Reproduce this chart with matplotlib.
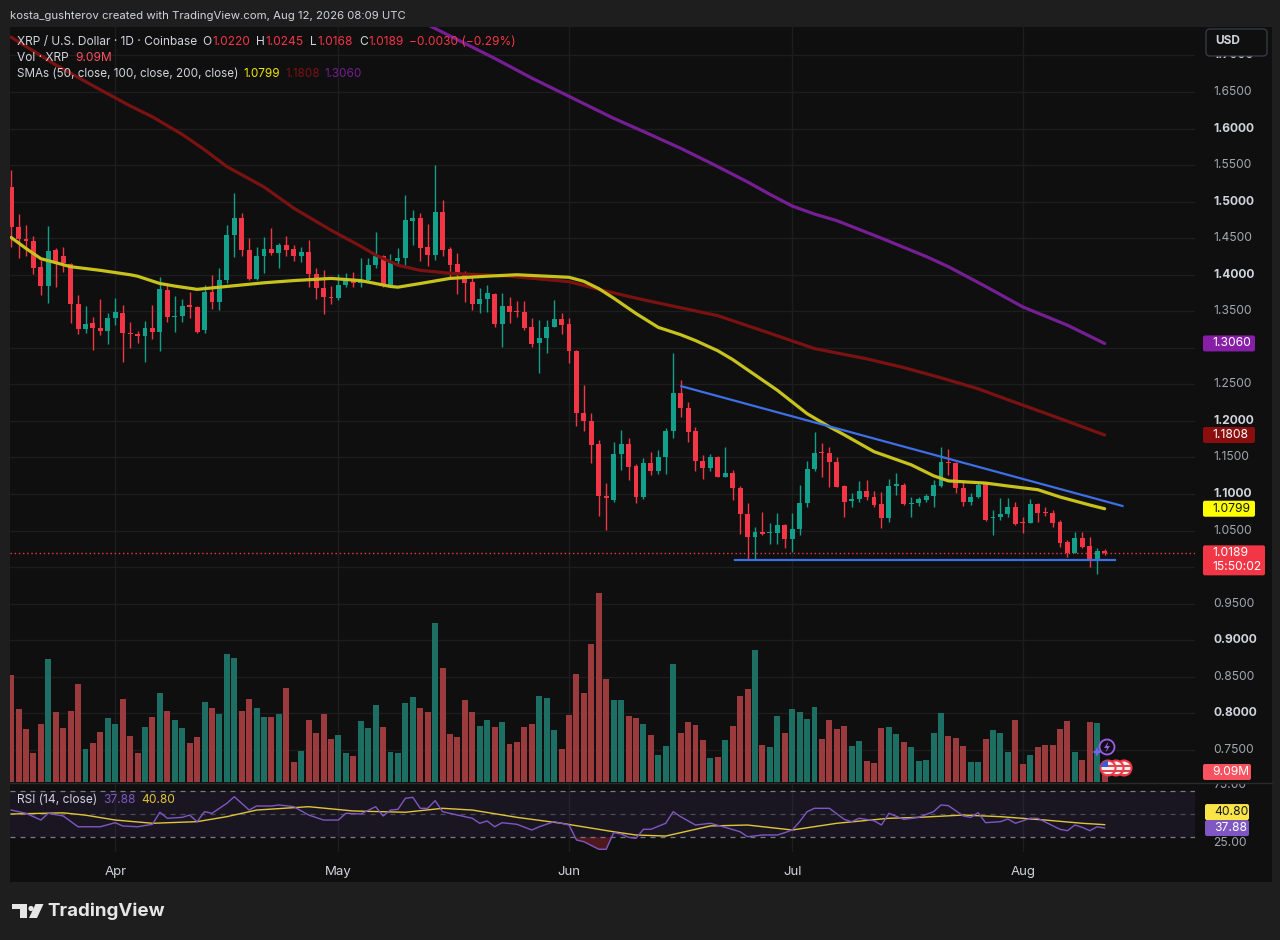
"""Recreate a TradingView XRP/USD daily chart: candles, volume, SMAs, RSI."""

import matplotlib
matplotlib.use("Agg")
import matplotlib.pyplot as plt
import numpy as np
import pandas as pd
from matplotlib.patches import Rectangle, FancyBboxPatch, Circle, Polygon
from matplotlib.transforms import Bbox, TransformedBbox, blended_transform_factory

plt.rcParams["font.family"] = ["Inter", "DejaVu Sans"]

# ---------------- data ----------------
dates = pd.date_range("2026-03-18", "2026-08-12", freq="D")

opens = [
    1.5195, 1.4647, 1.4492, 1.4460, 1.4100, 1.3845, 1.4337, 1.4255, 1.4146, 1.3598,
    1.3252, 1.3334, 1.3275, 1.3234, 1.3402, 1.3480, 1.3206, 1.3188, 1.3161, 1.3266,
    1.3211, 1.3790, 1.3425, 1.3435, 1.3580, 1.3562, 1.3243, 1.3768, 1.3630, 1.3927,
    1.4543, 1.4770, 1.4337, 1.3945, 1.4255, 1.4351, 1.4292, 1.4406, 1.4346, 1.4255,
    1.4314, 1.4009, 1.3813, 1.3700, 1.3685, 1.3858, 1.3936, 1.3890, 1.3927, 1.4132,
    1.4255, 1.3858, 1.4191, 1.4223, 1.4739, 1.4770, 1.4374, 1.4269, 1.4862, 1.4346,
    1.4146, 1.4018, 1.3904, 1.3598, 1.3662, 1.3735, 1.3325, 1.3576, 1.3503, 1.3494,
    1.3279, 1.3060, 1.3138, 1.3288, 1.3393, 1.3325, 1.2960, 1.2112, 1.2002, 1.1683,
    1.0972, 1.0918, 1.1547, 1.1684, 1.1383, 1.0964, 1.1420, 1.1320, 1.1511, 1.1867,
    1.2387, 1.2172, 1.1862, 1.1456, 1.1351, 1.1502, 1.1237, 1.1292, 1.1087, 1.0722,
    1.0417, 1.0480, 1.0462, 1.0471, 1.0576, 1.0380, 1.0517, 1.0873, 1.1338, 1.1580,
    1.1566, 1.1443, 1.1110, 1.0905, 1.0928, 1.1047, 1.0965, 1.0864, 1.0668, 1.1115,
    1.1124, 1.0864, 1.0882, 1.0919, 1.0974, 1.1110, 1.1443, 1.1420, 1.1079, 1.0896,
    1.0965, 1.1133, 1.0668, 1.0682, 1.0727, 1.0828, 1.0623, 1.0609, 1.0864, 1.0759,
    1.0737, 1.0623, 1.0349, 1.0198, 1.0395, 1.0290, 1.0116, 1.0220,
]
highs = [
    1.5430, 1.4830, 1.4680, 1.4533, 1.4200, 1.4666, 1.4370, 1.4383, 1.4164, 1.3720,
    1.3570, 1.3425, 1.3667, 1.3480, 1.3685, 1.3585, 1.3357, 1.3230, 1.3370, 1.3585,
    1.3972, 1.3890, 1.3712, 1.3667, 1.3767, 1.3572, 1.3858, 1.3995, 1.4086, 1.4679,
    1.5122, 1.4839, 1.4497, 1.4383, 1.4510, 1.4634, 1.4430, 1.4534, 1.4406, 1.4374,
    1.4474, 1.4087, 1.4064, 1.3840, 1.4009, 1.4018, 1.4041, 1.4224, 1.4224, 1.4588,
    1.4269, 1.4283, 1.4360, 1.5090, 1.4884, 1.4848, 1.4693, 1.5500, 1.5021, 1.4383,
    1.4300, 1.4054, 1.3972, 1.3813, 1.3858, 1.3744, 1.3753, 1.3699, 1.3644, 1.3644,
    1.3402, 1.3380, 1.3380, 1.3653, 1.3471, 1.3402, 1.2969, 1.2490, 1.2103, 1.1738,
    1.1145, 1.1716, 1.1876, 1.1771, 1.1411, 1.1488, 1.1579, 1.1602, 1.1899, 1.2934,
    1.2560, 1.2263, 1.1912, 1.1534, 1.1547, 1.1520, 1.1639, 1.1329, 1.1110, 1.0882,
    1.0544, 1.0758, 1.0599, 1.0745, 1.0590, 1.0735, 1.1124, 1.1456, 1.1853, 1.1694,
    1.1649, 1.1503, 1.1124, 1.1010, 1.1179, 1.1193, 1.1047, 1.1033, 1.1202, 1.1293,
    1.1147, 1.0964, 1.0955, 1.1001, 1.1193, 1.1649, 1.1612, 1.1443, 1.1193, 1.1020,
    1.1170, 1.1147, 1.0782, 1.0942, 1.0942, 1.0896, 1.0682, 1.0928, 1.0873, 1.0819,
    1.0782, 1.0645, 1.0372, 1.0486, 1.0486, 1.0417, 1.0258, 1.0245,
]
lows = [
    1.4383, 1.4223, 1.4255, 1.4009, 1.3720, 1.3617, 1.3836, 1.4040, 1.3334, 1.3188,
    1.3197, 1.2970, 1.3175, 1.3047, 1.3310, 1.2810, 1.3000, 1.3070, 1.2800, 1.3120,
    1.2955, 1.3357, 1.3220, 1.3357, 1.3402, 1.3206, 1.3206, 1.3525, 1.3516, 1.3881,
    1.4237, 1.4255, 1.3927, 1.3927, 1.4019, 1.4264, 1.4095, 1.4255, 1.4192, 1.4178,
    1.3836, 1.3675, 1.3457, 1.3594, 1.3650, 1.3836, 1.3836, 1.3836, 1.3918, 1.4087,
    1.3836, 1.3836, 1.4132, 1.4132, 1.4406, 1.4191, 1.4118, 1.4200, 1.4255, 1.3972,
    1.3735, 1.3630, 1.3516, 1.3471, 1.3494, 1.3288, 1.3006, 1.3334, 1.3425, 1.3243,
    1.3015, 1.2659, 1.2933, 1.3279, 1.3188, 1.2787, 1.1930, 1.1866, 1.1419, 1.0698,
    1.0507, 1.0895, 1.1329, 1.1192, 1.0882, 1.0927, 1.1260, 1.1280, 1.1280, 1.1762,
    1.2049, 1.1716, 1.1319, 1.1201, 1.1319, 1.1228, 1.1228, 1.0918, 1.0453, 1.0106,
    1.0097, 1.0440, 1.0316, 1.0316, 1.0257, 1.0211, 1.0439, 1.0818, 1.1320, 1.1238,
    1.1092, 1.1092, 1.0691, 1.0819, 1.0896, 1.0919, 1.0819, 1.0531, 1.0622, 1.0987,
    1.0850, 1.0691, 1.0837, 1.0896, 1.0819, 1.1092, 1.1261, 1.1010, 1.0837, 1.0851,
    1.0942, 1.0636, 1.0440, 1.0645, 1.0682, 1.0577, 1.0463, 1.0600, 1.0623, 1.0700,
    1.0545, 1.0280, 1.0135, 1.0189, 1.0258, 1.0007, 0.9907, 1.0168,
]
closes = [
    1.4647, 1.4483, 1.4456, 1.4086, 1.3845, 1.4328, 1.4164, 1.4155, 1.3598, 1.3252,
    1.3325, 1.3275, 1.3230, 1.3402, 1.3484, 1.3197, 1.3184, 1.3166, 1.3266, 1.3211,
    1.3799, 1.3425, 1.3440, 1.3576, 1.3562, 1.3220, 1.3768, 1.3630, 1.3927, 1.4543,
    1.4770, 1.4337, 1.3936, 1.4255, 1.4346, 1.4292, 1.4406, 1.4337, 1.4255, 1.4314,
    1.4009, 1.3813, 1.3690, 1.3685, 1.3858, 1.3936, 1.3890, 1.3927, 1.4132, 1.4255,
    1.3858, 1.4187, 1.4223, 1.4748, 1.4780, 1.4360, 1.4269, 1.4862, 1.4337, 1.4132,
    1.4009, 1.3890, 1.3598, 1.3662, 1.3753, 1.3325, 1.3576, 1.3494, 1.3484, 1.3266,
    1.3051, 1.3138, 1.3288, 1.3393, 1.3311, 1.2960, 1.2103, 1.2002, 1.1670, 1.0972,
    1.0940, 1.1547, 1.1684, 1.1365, 1.0964, 1.1420, 1.1320, 1.1511, 1.1867, 1.2377,
    1.2172, 1.1853, 1.1456, 1.1351, 1.1502, 1.1237, 1.1283, 1.1087, 1.0722, 1.0417,
    1.0480, 1.0453, 1.0480, 1.0576, 1.0380, 1.0517, 1.0882, 1.1338, 1.1566, 1.1557,
    1.1443, 1.1101, 1.0896, 1.0933, 1.1047, 1.0965, 1.0851, 1.0668, 1.1110, 1.1133,
    1.0864, 1.0882, 1.0928, 1.0974, 1.1124, 1.1443, 1.1420, 1.1079, 1.0896, 1.0965,
    1.1124, 1.0645, 1.0691, 1.0727, 1.0828, 1.0591, 1.0609, 1.0864, 1.0746, 1.0737,
    1.0609, 1.0326, 1.0198, 1.0395, 1.0280, 1.0116, 1.0219, 1.0189,
]
# volume in millions of XRP
volumes = [
    97.0, 66.7, 48.5, 26.7, 53.0, 112.1, 63.3, 49.1, 64.5, 88.8,
    30.0, 35.1, 45.1, 58.2, 53.0, 75.1, 41.5, 26.4, 50.0, 58.8,
    81.2, 64.2, 56.7, 49.1, 35.5, 40.6, 72.7, 67.6, 61.5, 116.7,
    112.7, 64.8, 75.8, 67.6, 58.8, 58.8, 61.5, 85.7, 17.9, 27.9,
    56.1, 44.8, 62.1, 39.1, 43.0, 26.7, 23.6, 55.1, 49.1, 70.3,
    50.0, 27.3, 26.7, 72.1, 77.3, 67.6, 63.9, 144.5, 103.6, 43.9,
    40.9, 74.2, 63.3, 50.6, 56.1, 50.0, 54.8, 34.5, 36.7, 49.7,
    52.4, 78.2, 76.7, 47.6, 30.3, 61.2, 98.5, 80.9, 125.7, 171.8,
    93.6, 74.2, 74.2, 60.3, 58.2, 53.0, 43.0, 24.8, 33.0, 107.0,
    44.8, 54.5, 51.5, 37.9, 21.8, 22.7, 37.9, 50.6, 77.9, 84.8,
    120.3, 33.9, 31.8, 60.3, 44.2, 66.1, 63.6, 57.0, 68.2, 38.8,
    56.4, 47.9, 50.9, 32.4, 37.6, 19.1, 17.6, 48.8, 50.0, 43.9,
    36.7, 31.8, 19.1, 19.7, 44.8, 62.4, 41.8, 39.7, 33.0, 18.2,
    18.2, 39.1, 47.6, 44.5, 27.0, 56.1, 16.7, 24.2, 31.8, 33.3,
    33.9, 48.5, 55.4, 27.0, 19.7, 54.2, 53.9, 9.09,
]

# moving averages, read at bar indices
sma50_idx = [0, 2, 4, 8, 12, 16, 17, 20, 22, 25, 29, 34, 38, 43, 47, 51, 52, 55, 59, 64,
             68, 75, 77, 79, 81, 84, 87, 90, 92, 95, 97, 100, 103, 105, 107, 110, 112,
             116, 121, 124, 126, 131, 134, 138, 141, 145, 147]
sma50_val = [1.451, 1.436, 1.422, 1.411, 1.406, 1.400, 1.398, 1.388, 1.3845, 1.380,
             1.384, 1.389, 1.392, 1.395, 1.392, 1.384, 1.383, 1.388, 1.395, 1.398,
             1.400, 1.3965, 1.391, 1.381, 1.368, 1.347, 1.328, 1.318, 1.310, 1.296,
             1.284, 1.263, 1.242, 1.226, 1.210, 1.192, 1.181, 1.158, 1.140, 1.125,
             1.118, 1.115, 1.111, 1.106, 1.096, 1.085, 1.0799]
sma100_idx = [0, 6, 12, 16, 19, 23, 26, 29, 34, 38, 43, 47, 49, 52, 55, 59, 67, 75, 79,
              84, 89, 95, 102, 108, 115, 120, 125, 130, 134, 140, 147]
sma100_val = [1.725, 1.687, 1.653, 1.631, 1.616, 1.592, 1.571, 1.548, 1.520, 1.491,
              1.461, 1.439, 1.427, 1.413, 1.406, 1.402, 1.398, 1.3905, 1.380, 1.368,
              1.357, 1.344, 1.320, 1.299, 1.285, 1.273, 1.259, 1.244, 1.229, 1.207,
              1.1808]
sma200_idx = [50, 56, 65, 70, 75, 81, 85, 90, 94, 99, 102, 105, 108, 111, 117, 123, 126,
              131, 136, 142, 147]
sma200_val = [1.773, 1.742, 1.696, 1.669, 1.644, 1.614, 1.596, 1.573, 1.553, 1.527,
              1.510, 1.494, 1.483, 1.474, 1.450, 1.425, 1.411, 1.384, 1.356, 1.331, 1.306]

# drawn trend lines (bar index, price)
trend_upper = [(90.1, 1.2475), (149.4, 1.0837)]
trend_lower = [(97.3, 1.0098), (148.4, 1.0098)]

# RSI(14) and its moving average, read at bar indices
rsi_idx = [0, 2, 4, 5, 7, 9, 12, 14, 15, 17, 19, 20, 21, 23, 24, 25, 26, 27, 29, 30,
           32, 33, 35, 36, 38, 40, 42, 44, 45, 47, 49, 50, 51, 52, 53, 54, 55, 56, 57,
           58, 60, 62, 63, 64, 65, 66, 68, 70, 71, 73, 75, 76, 77, 79, 80, 81, 82, 83,
           84, 85, 86, 88, 89, 90, 92, 94, 96, 98, 99, 101, 103, 104, 105, 106, 107,
           108, 110, 112, 113, 114, 116, 117, 118, 120, 122, 124, 125, 126, 128, 129,
           130, 131, 133, 134, 135, 137, 138, 141, 142, 143, 144, 145, 146, 147]
rsi_val = [53.4, 50.6, 44.8, 50.6, 48.3, 39.0, 39.0, 42.5, 39.7, 39.0, 41.1, 51.5, 46.3,
           47.1, 49.1, 43.4, 52.0, 50.6, 59.2, 64.9, 53.4, 56.9, 56.9, 57.8, 56.3, 49.1,
           44.8, 44.8, 50.6, 50.0, 56.3, 48.3, 53.4, 54.0, 63.5, 64.4, 54.9, 54.9, 61.5,
           52.0, 49.1, 46.3, 42.0, 44.0, 39.0, 42.5, 41.1, 36.2, 39.0, 43.4, 40.5, 27.6,
           26.1, 19.6, 19.6, 33.9, 32.8, 29.9, 29.0, 36.8, 36.8, 42.0, 52.0, 47.7, 40.5,
           42.0, 38.5, 34.7, 30.4, 31.9, 31.9, 33.9, 36.2, 43.4, 52.0, 54.9, 54.9, 45.4,
           43.4, 46.3, 44.2, 40.5, 50.6, 45.4, 47.1, 52.0, 57.8, 57.2, 48.3, 47.1, 51.1,
           42.5, 43.4, 45.7, 42.0, 46.3, 46.3, 36.8, 35.6, 40.5, 38.5, 35.6, 39.0, 37.88]
rsi_ma_idx = [0, 7, 10, 14, 19, 25, 29, 33, 40, 46, 53, 58, 62, 68, 74, 81, 84, 88, 94,
              99, 105, 111, 118, 122, 128, 133, 139, 144, 147]
rsi_ma_val = [50.0, 51.0, 49.0, 44.8, 42.0, 43.4, 47.7, 53.4, 56.3, 52.6, 51.5, 54.9,
              53.4, 47.1, 42.0, 34.7, 31.9, 31.0, 39.7, 40.5, 36.2, 42.0, 46.3, 47.1,
              49.1, 47.7, 44.8, 42.0, 40.8]

price_ticks = [1.70, 1.65, 1.60, 1.55, 1.50, 1.45, 1.40, 1.35, 1.30, 1.25, 1.20, 1.15,
               1.10, 1.05, 1.00, 0.95, 0.90, 0.85, 0.80, 0.75]
hidden_ticks = [1.30, 1.00]   # covered by price tags

# ---------------- style ----------------
W, H = 1280, 940
BG_OUTER = "#1e1e1e"
BG_PANE = "#0f0f0f"
GRID = "#1d1d1d"
UP = "#12a08a"
DOWN = "#f23645"
UP_VOL = "#1d6f64"
DOWN_VOL = "#9c3b3d"
SMA50_C = "#c8c21d"
SMA100_C = "#7b1212"
SMA200_C = "#761e94"
TREND_C = "#3d6fe6"
TXT = "#d1d4dc"
AXTXT = "#a3a6af"
RSI_C = "#7e57c2"
RSI_MA_C = "#e0c53a"

fig = plt.figure(figsize=(W / 100, H / 100), dpi=100, facecolor=BG_OUTER)


def rect(l, t, r, b):
    return [l / W, 1 - b / H, (r - l) / W, (b - t) / H]


bg = fig.add_axes([0, 0, 1, 1], zorder=0)
bg.set_xlim(0, W)
bg.set_ylim(H, 0)
bg.axis("off")
bg.add_patch(Rectangle((10, 27), 1262, 855, color=BG_PANE, lw=0))

axv = fig.add_axes(rect(10, 27, 1195, 782), zorder=1)
ax = fig.add_axes(rect(10, 27, 1195, 782), zorder=2, sharex=axv)
rsi = fig.add_axes(rect(10, 783, 1195, 852), zorder=2, sharex=axv)
for a in (axv, ax, rsi):
    a.patch.set_alpha(0)
    for s in a.spines.values():
        s.set_visible(False)
    a.tick_params(length=0, labelleft=False, labelbottom=False, labelright=False)

x = np.arange(len(dates))
o, h, l, c = map(np.array, (opens, highs, lows, closes))
up = c >= o

ax.set_xlim(-0.15, 159.15)
ax.set_ylim(0.7061, 1.7389)
axv.set_ylim(0, 686)
rsi.set_ylim(17.24, 76.72)

month_idx = [i for i, d in enumerate(dates) if d.day == 1]
month_lbl = [dates[i].strftime("%b") for i in month_idx]

# grid
for i in month_idx:
    axv.axvline(i, color=GRID, lw=1, zorder=0)
    rsi.axvline(i, color=GRID, lw=1, zorder=0)
grid_tr = blended_transform_factory(axv.transAxes, ax.transData)
for p in price_ticks:
    axv.plot([0, 1], [p, p], transform=grid_tr, color=GRID, lw=1, zorder=0)

# volume
axv.bar(x, volumes, width=0.8, color=np.where(up, UP_VOL, DOWN_VOL), lw=0, zorder=2)

# candles
cols = np.where(up, UP, DOWN)
ax.vlines(x, l, h, colors=cols, lw=1.0, zorder=3)
ax.bar(x, np.maximum(np.abs(c - o), 0.0012), bottom=np.minimum(o, c), width=0.66,
       color=cols, lw=0, zorder=4)

# moving averages and trend lines
line_kw = dict(lw=2.3, solid_capstyle="round", solid_joinstyle="round")
ax.plot(sma200_idx, sma200_val, color=SMA200_C, zorder=5, **line_kw)
ax.plot(sma100_idx, sma100_val, color=SMA100_C, zorder=5, **line_kw)
ax.plot(sma50_idx, sma50_val, color=SMA50_C, zorder=6, **line_kw)
for seg in (trend_upper, trend_lower):
    ax.plot([p[0] for p in seg], [p[1] for p in seg], color=TREND_C, lw=1.6, zorder=7)
ax.axhline(closes[-1], color=DOWN, lw=1, ls=(0, (1, 2)), zorder=2)

# price scale labels
for p in price_ticks:
    if any(abs(p - q) < 1e-9 for q in hidden_ticks):
        continue
    major = abs(round(p * 10) - p * 10) < 1e-6
    ax.text(1.0152, p, f"{p:.4f}", transform=ax.get_yaxis_transform(), va="center",
            ha="left", fontsize=8.7, color=TXT if major else AXTXT,
            fontweight="bold" if major else "normal")

# RSI pane
rsi.axhspan(30, 70, color=RSI_C, alpha=0.1, lw=0, zorder=0)
for lev, col in ((70, "#787b86"), (50, "#4a4c55"), (30, "#787b86")):
    rsi.axhline(lev, color=col, lw=0.9, ls=(0, (4, 4)), zorder=1)
rv = np.array(rsi_val)
rsi.fill_between(rsi_idx, rv, 30, where=rv < 30, interpolate=True, color=DOWN,
                 alpha=0.28, lw=0, zorder=2)
rsi.plot(rsi_ma_idx, rsi_ma_val, color=RSI_MA_C, lw=1.0, zorder=3)
rsi.plot(rsi_idx, rsi_val, color=RSI_C, lw=1.0, zorder=4)
rsi.set_xticks(month_idx)
rsi.set_xticklabels(month_lbl)
rsi.tick_params(axis="x", labelbottom=True, colors=TXT, labelsize=9.5, pad=10)
rsi.text(1.0152, 25, "25.00", transform=rsi.get_yaxis_transform(), va="center",
         ha="left", fontsize=8.7, color=AXTXT)
t75 = rsi.text(1.0152, 75, "75.00", transform=rsi.get_yaxis_transform(), va="center",
               ha="left", fontsize=8.7, color=AXTXT)
t75.set_clip_box(TransformedBbox(Bbox([[0, 0], [1.2, 1]]), rsi.transAxes))
t75.set_clip_on(True)

# ---------------- overlay: texts, tags, logo ----------------
fg = fig.add_axes([0, 0, 1, 1], zorder=10)
fg.set_xlim(0, W)
fg.set_ylim(H, 0)
fg.axis("off")
renderer = fig.canvas.get_renderer()


def ypix(axes, v):
    return H - axes.transData.transform((0, v))[1]


def text_run(x0, y, parts, size):
    xx = x0
    for txt, col, gap in parts:
        xx += gap
        t = fg.text(xx, y, txt, color=col, fontsize=size, va="center", ha="left")
        xx += t.get_window_extent(renderer).width


def tag(y, label, face, color, width=52, x0=1203):
    fg.add_patch(FancyBboxPatch((x0, y - 8), width, 16, boxstyle="round,pad=0,rounding_size=2",
                                fc=face, ec="none"))
    fg.text(x0 + 9, y, label, color=color, fontsize=8.7, va="center", ha="left")


fg.text(10, 16, "kosta_gushterov created with TradingView.com, Aug 12, 2026 08:09 UTC",
        color=TXT, fontsize=8.2, va="center", ha="left")
text_run(17, 42, [("XRP / U.S. Dollar · 1D · Coinbase", TXT, 0), ("O", TXT, 5),
                  ("1.0220", DOWN, 1), ("H", TXT, 6), ("1.0245", DOWN, 1), ("L", TXT, 6),
                  ("1.0168", DOWN, 1), ("C", TXT, 6), ("1.0189", DOWN, 1),
                  ("\u22120.0030 (\u22120.29%)", DOWN, 5)], 8.6)
text_run(17, 58, [("Vol · XRP", TXT, 0), ("9.09M", "#f7525f", 6)], 8.6)
text_run(17, 74, [("SMAs (50, close, 100, close, 200, close)", TXT, 0),
                  ("1.0799", "#f0e800", 5), ("1.1808", SMA100_C, 5),
                  ("1.3060", SMA200_C, 5)], 8.4)
text_run(17, 800, [("RSI (14, close)", TXT, 0), ("37.88", RSI_C, 6),
                   ("40.80", RSI_MA_C, 6)], 8.6)

# USD box
fg.add_patch(FancyBboxPatch((1206, 29), 61, 27, boxstyle="round,pad=0,rounding_size=4",
                            fc=BG_PANE, ec="#363a45", lw=1))
fg.text(1215, 41.5, "USD", color=TXT, fontsize=8.5, fontweight="bold", va="center")

# price tags
tag(ypix(ax, sma200_val[-1]), "1.3060", "#861fa6", "white")
tag(ypix(ax, sma100_val[-1]), "1.1808", "#8b0e0e", "white")
tag(ypix(ax, sma50_val[-1]), "1.0799", "#ffff00", "#131722")
yl = ypix(ax, closes[-1])
fg.add_patch(FancyBboxPatch((1203, yl - 8), 62, 30, boxstyle="round,pad=0,rounding_size=2",
                            fc=DOWN, ec="none"))
fg.text(1212, yl, "1.0189", color="white", fontsize=8.7, va="center")
fg.text(1212, yl + 14, "15:50:02", color="white", fontsize=8.7, va="center")
tag(ypix(axv, volumes[-1]), "9.09M", "#f7525f", "white", width=48)
yr = ypix(rsi, rsi_val[-1])
tag(yr, "37.88", RSI_C, "white", width=44, x0=1205)
tag(yr - 16, "40.80", "#f9e547", "#131722", width=44, x0=1205)

# pane separator
fg.plot([10, 1272], [782.5, 782.5], color="#2a2a2a", lw=1)

# event icons at the last bar
fg.add_patch(Circle((1107, 747), 7.5, fill=False, ec="#9d5cf0", lw=1.3))
fg.add_patch(Polygon([(1108.5, 741.5), (1104, 748), (1107, 748), (1105.5, 752.5),
                      (1110, 746), (1107, 746)], closed=True, fc="#9d5cf0", ec="none"))
fg.add_patch(Polygon([(1097, 747), (1098.3, 750.7), (1102, 752), (1098.3, 753.3),
                      (1097, 757), (1095.7, 753.3), (1092, 752), (1095.7, 750.7)],
                     closed=True, fc="#7b61ff", ec="none"))
for cx in (1124, 1116, 1108):
    circ = Circle((cx, 768), 7.5, fc="#f0f0f0", ec="#f23645", lw=1.5)
    fg.add_patch(circ)
    for sy in (765, 769.5, 773.5):
        stripe = Rectangle((cx - 8, sy), 16, 2, fc="#e0454f", ec="none")
        fg.add_patch(stripe)
        stripe.set_clip_path(circ)
canton = Rectangle((1100, 760), 8, 7, fc="#3b5bdb", ec="none")
fg.add_patch(canton)
canton.set_clip_path(circ)

# TradingView logo
LOGO = "#e6e6e6"
fg.add_patch(Rectangle((12, 904), 14.5, 5, fc=LOGO, ec="none"))
fg.add_patch(Rectangle((19.5, 904), 7, 14, fc=LOGO, ec="none"))
fg.add_patch(Circle((31, 908.5), 2.6, fc=LOGO, ec="none"))
fg.add_patch(Polygon([(35.5, 904), (43.5, 904), (37, 918), (29, 918)], closed=True,
                     fc=LOGO, ec="none"))
fg.text(47, 911.5, "TradingView", color=LOGO, fontsize=13.5, fontweight="bold",
        va="center", ha="left")

fig.savefig("out.png", dpi=100, facecolor=BG_OUTER)
